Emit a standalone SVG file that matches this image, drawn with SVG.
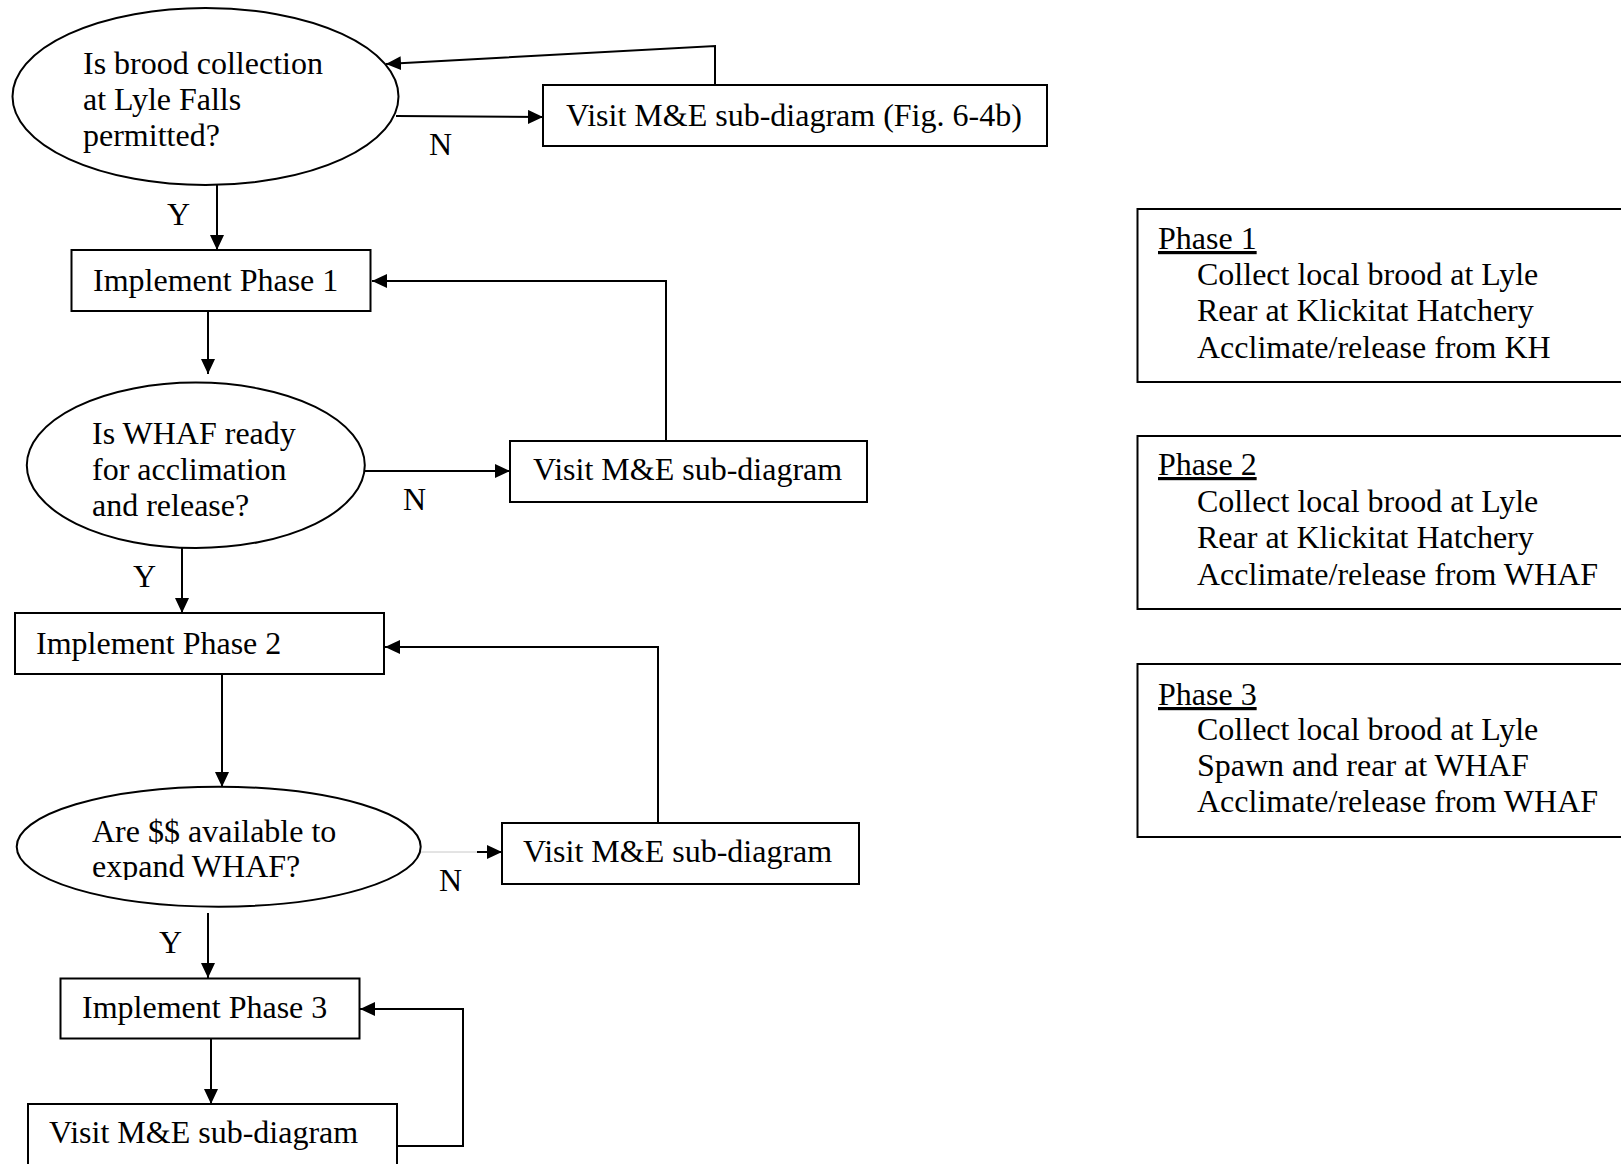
<svg xmlns="http://www.w3.org/2000/svg" width="1621" height="1164" viewBox="0 0 1621 1164">
<style>
text{font-family:"Liberation Serif","Times New Roman",serif;font-size:32px;fill:#000}
.box{fill:#fff;stroke:#000;stroke-width:2}
.ell{fill:#fff;stroke:#000;stroke-width:2}
.ln{fill:none;stroke:#000;stroke-width:2}
.arr{fill:none;stroke:#000;stroke-width:2;marker-end:url(#ah)}
.u{text-decoration:underline}
</style>
<defs>
<marker id="ah" markerUnits="userSpaceOnUse" markerWidth="16" markerHeight="14" refX="15" refY="7" orient="auto">
<path d="M0,0 L15,7 L0,14 z" fill="#000"/>
</marker>
<clipPath id="clipD3"><rect x="0" y="780" width="440" height="100"/></clipPath>
</defs>
<g id="connectors">
<path class="arr" d="M715,85 L715,46 L386,64"/>
<path class="arr" d="M396,116 L543,117"/>
<path class="arr" d="M217,185 L217,250"/>
<path class="arr" d="M666,441 L666,281 L372,281"/>
<path class="arr" d="M208,311 L208,374"/>
<path class="arr" d="M364,471 L510,471"/>
<path class="arr" d="M182,548 L182,613"/>
<path class="arr" d="M658,823 L658,647 L385,647"/>
<path class="arr" d="M222,674 L222,787"/>
<path d="M421,852 L477,852" fill="none" stroke="#c8c8c8" stroke-width="1"/>
<path class="arr" d="M477,852 L502,852"/>
<path class="arr" d="M208,913 L208,978"/>
<path class="arr" d="M397,1146 L463,1146 L463,1009 L360,1009"/>
<path class="arr" d="M211,1038 L211,1104"/>
<text x="429" y="155">N</text>
<text x="167" y="225">Y</text>
<text x="403" y="510">N</text>
<text x="133" y="587">Y</text>
<text x="439" y="891">N</text>
<text x="159" y="953">Y</text>
</g>
<g id="decision1">
<ellipse class="ell" cx="205.5" cy="96.5" rx="193" ry="88.5"/>
<text x="83" y="74">Is brood collection</text>
<text x="83" y="110">at Lyle Falls</text>
<text x="83" y="146">permitted?</text>
</g>
<g id="visit1">
<rect class="box" x="543" y="85" width="504" height="61"/>
<text x="566" y="126">Visit M&amp;E sub-diagram (Fig. 6-4b)</text>
</g>
<g id="phase1">
<rect class="box" x="71.5" y="250" width="299" height="61"/>
<text x="93" y="291">Implement Phase 1</text>
</g>
<g id="decision2">
<ellipse class="ell" cx="195.8" cy="465.3" rx="169" ry="82.7"/>
<text x="92" y="444">Is WHAF ready</text>
<text x="92" y="480">for acclimation</text>
<text x="92" y="516">and release?</text>
</g>
<g id="visit2">
<rect class="box" x="510" y="441" width="357" height="61"/>
<text x="533" y="480">Visit M&amp;E sub-diagram</text>
</g>
<g id="phase2">
<rect class="box" x="15" y="613" width="369" height="61"/>
<text x="36" y="654">Implement Phase 2</text>
</g>
<g id="decision3">
<ellipse class="ell" cx="218.7" cy="846.7" rx="202" ry="60"/>
<g clip-path="url(#clipD3)">
<text x="92" y="842">Are $$ available to</text>
<text x="92" y="877">expand WHAF?</text>
</g>
</g>
<g id="visit3">
<rect class="box" x="502" y="823" width="357" height="61"/>
<text x="523" y="862">Visit M&amp;E sub-diagram</text>
</g>
<g id="phase3">
<rect class="box" x="60.5" y="978.5" width="299" height="60"/>
<text x="82" y="1018">Implement Phase 3</text>
</g>
<g id="visit4">
<rect class="box" x="28" y="1104" width="369" height="70"/>
<text x="49" y="1143">Visit M&amp;E sub-diagram</text>
</g>
<g id="legend1">
<rect class="box" x="1137.5" y="209" width="500" height="173"/>
<text x="1158" y="249" class="u">Phase 1</text>
<text x="1197" y="285">Collect local brood at Lyle</text>
<text x="1197" y="321">Rear at Klickitat Hatchery</text>
<text x="1197" y="358">Acclimate/release from KH</text>
</g>
<g id="legend2">
<rect class="box" x="1137.5" y="436" width="500" height="173"/>
<text x="1158" y="475" class="u">Phase 2</text>
<text x="1197" y="512">Collect local brood at Lyle</text>
<text x="1197" y="548">Rear at Klickitat Hatchery</text>
<text x="1197" y="585">Acclimate/release from WHAF</text>
</g>
<g id="legend3">
<rect class="box" x="1137.5" y="664" width="500" height="173"/>
<text x="1158" y="705" class="u">Phase 3</text>
<text x="1197" y="740">Collect local brood at Lyle</text>
<text x="1197" y="776">Spawn and rear at WHAF</text>
<text x="1197" y="812">Acclimate/release from WHAF</text>
</g>
</svg>
